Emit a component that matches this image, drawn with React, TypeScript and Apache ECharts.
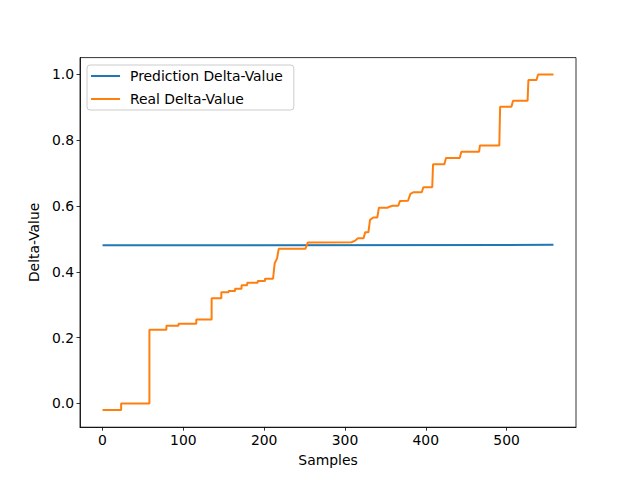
import React, { useEffect, useRef } from "react";
import * as echarts from "echarts";

// Vertices of the "Real Delta-Value" step line (sample index, value)
const realX = [0, 23, 23, 58, 58, 79, 79, 94, 94, 116, 116, 135, 135, 147, 147, 156, 156, 164, 164, 172, 172, 179, 179, 192, 192, 201, 201, 211, 213, 216, 218, 251, 254, 308, 312, 316, 323, 325, 329, 331, 335, 340, 342, 353, 355, 359, 366, 368, 378, 381, 385, 395, 397, 408, 409, 423, 425, 442, 444, 466, 467, 491, 492, 506, 508, 526, 527, 537, 539, 558];
const realY = [-0.02, -0.02, 0.0, 0.0, 0.224, 0.224, 0.236, 0.236, 0.242, 0.242, 0.255, 0.255, 0.32, 0.32, 0.338, 0.338, 0.342, 0.342, 0.349, 0.349, 0.359, 0.359, 0.367, 0.367, 0.372, 0.372, 0.379, 0.379, 0.426, 0.441, 0.47, 0.47, 0.489, 0.49, 0.494, 0.502, 0.502, 0.52, 0.52, 0.558, 0.565, 0.565, 0.595, 0.595, 0.598, 0.601, 0.601, 0.615, 0.616, 0.637, 0.642, 0.642, 0.657, 0.657, 0.727, 0.727, 0.746, 0.746, 0.765, 0.765, 0.784, 0.784, 0.902, 0.902, 0.92, 0.92, 0.983, 0.983, 1.0, 1.0];

// "Prediction Delta-Value" (nearly flat)
const predX = [0, 558];
const predY = [0.4805, 0.482];

const xTicks = [0, 100, 200, 300, 400, 500];
const yTicks = [0.0, 0.2, 0.4, 0.6, 0.8, 1.0];

const seriesNames = ["Prediction Delta-Value", "Real Delta-Value"];
const FONT = "DejaVu Sans";
const FS = 13.9;

export default function App() {
  const ref = useRef<HTMLDivElement>(null);
  useEffect(() => {
    if (!ref.current) return;
    const chart = echarts.init(ref.current, null, { renderer: "svg" });
    const axisCommon = {
      axisLine: { show: true, onZero: false, lineStyle: { color: "#000", width: 0.8 } },
      axisTick: { show: true, inside: false, length: 3.5, lineStyle: { color: "#000", width: 0.8 } },
      splitLine: { show: false },
      nameTextStyle: { fontFamily: FONT, fontSize: FS, color: "#000" },
    };
    chart.setOption({
      animation: false,
      backgroundColor: "#fff",
      grid: {
        left: 80,
        right: 64,
        top: 57.6,
        bottom: 52.8,
        show: true,
        borderColor: "#000",
        borderWidth: 0.8,
        containLabel: false,
      },
      legend: {
        orient: "vertical",
        left: 87,
        top: 65,
        data: seriesNames,
        icon: "rect",
        itemWidth: 29,
        itemHeight: 2,
        itemGap: 9,
        padding: [4, 11, 4, 4],
        borderColor: "#cccccc",
        borderWidth: 1,
        borderRadius: 3,
        backgroundColor: "rgba(255,255,255,0.8)",
        textStyle: { fontFamily: FONT, fontSize: FS, color: "#000", padding: [0, 0, 0, 5] },
      },
      xAxis: {
        type: "value",
        min: -27.9,
        max: 585.9,
        name: "Samples",
        nameLocation: "middle",
        nameGap: 26,
        ...axisCommon,
        axisTick: { ...axisCommon.axisTick, customValues: xTicks },
        axisLabel: {
          customValues: xTicks,
          fontFamily: FONT,
          fontSize: FS,
          color: "#000",
          margin: 6,
          formatter: (v: number) => String(v),
        },
      },
      yAxis: {
        type: "value",
        min: -0.0721,
        max: 1.0511,
        name: "Delta-Value",
        nameLocation: "middle",
        nameGap: 38,
        ...axisCommon,
        axisTick: { ...axisCommon.axisTick, customValues: yTicks },
        axisLabel: {
          customValues: yTicks,
          fontFamily: FONT,
          fontSize: FS,
          color: "#000",
          margin: 6,
          formatter: (v: number) => v.toFixed(1),
        },
      },
      series: [
        {
          name: seriesNames[0],
          type: "line",
          data: predX.map((x, i) => [x, predY[i]]),
          showSymbol: false,
          symbol: "none",
          itemStyle: { color: "#1f77b4" },
          lineStyle: { color: "#1f77b4", width: 2 },
        },
        {
          name: seriesNames[1],
          type: "line",
          data: realX.map((x, i) => [x, realY[i]]),
          showSymbol: false,
          symbol: "none",
          itemStyle: { color: "#ff7f0e" },
          lineStyle: { color: "#ff7f0e", width: 2 },
        },
      ],
    });
    return () => chart.dispose();
  }, []);
  return (
    <div
      ref={ref}
      style={{ position: "fixed", left: 0, top: 0, width: 640, height: 480, background: "#fff" }}
    />
  );
}
